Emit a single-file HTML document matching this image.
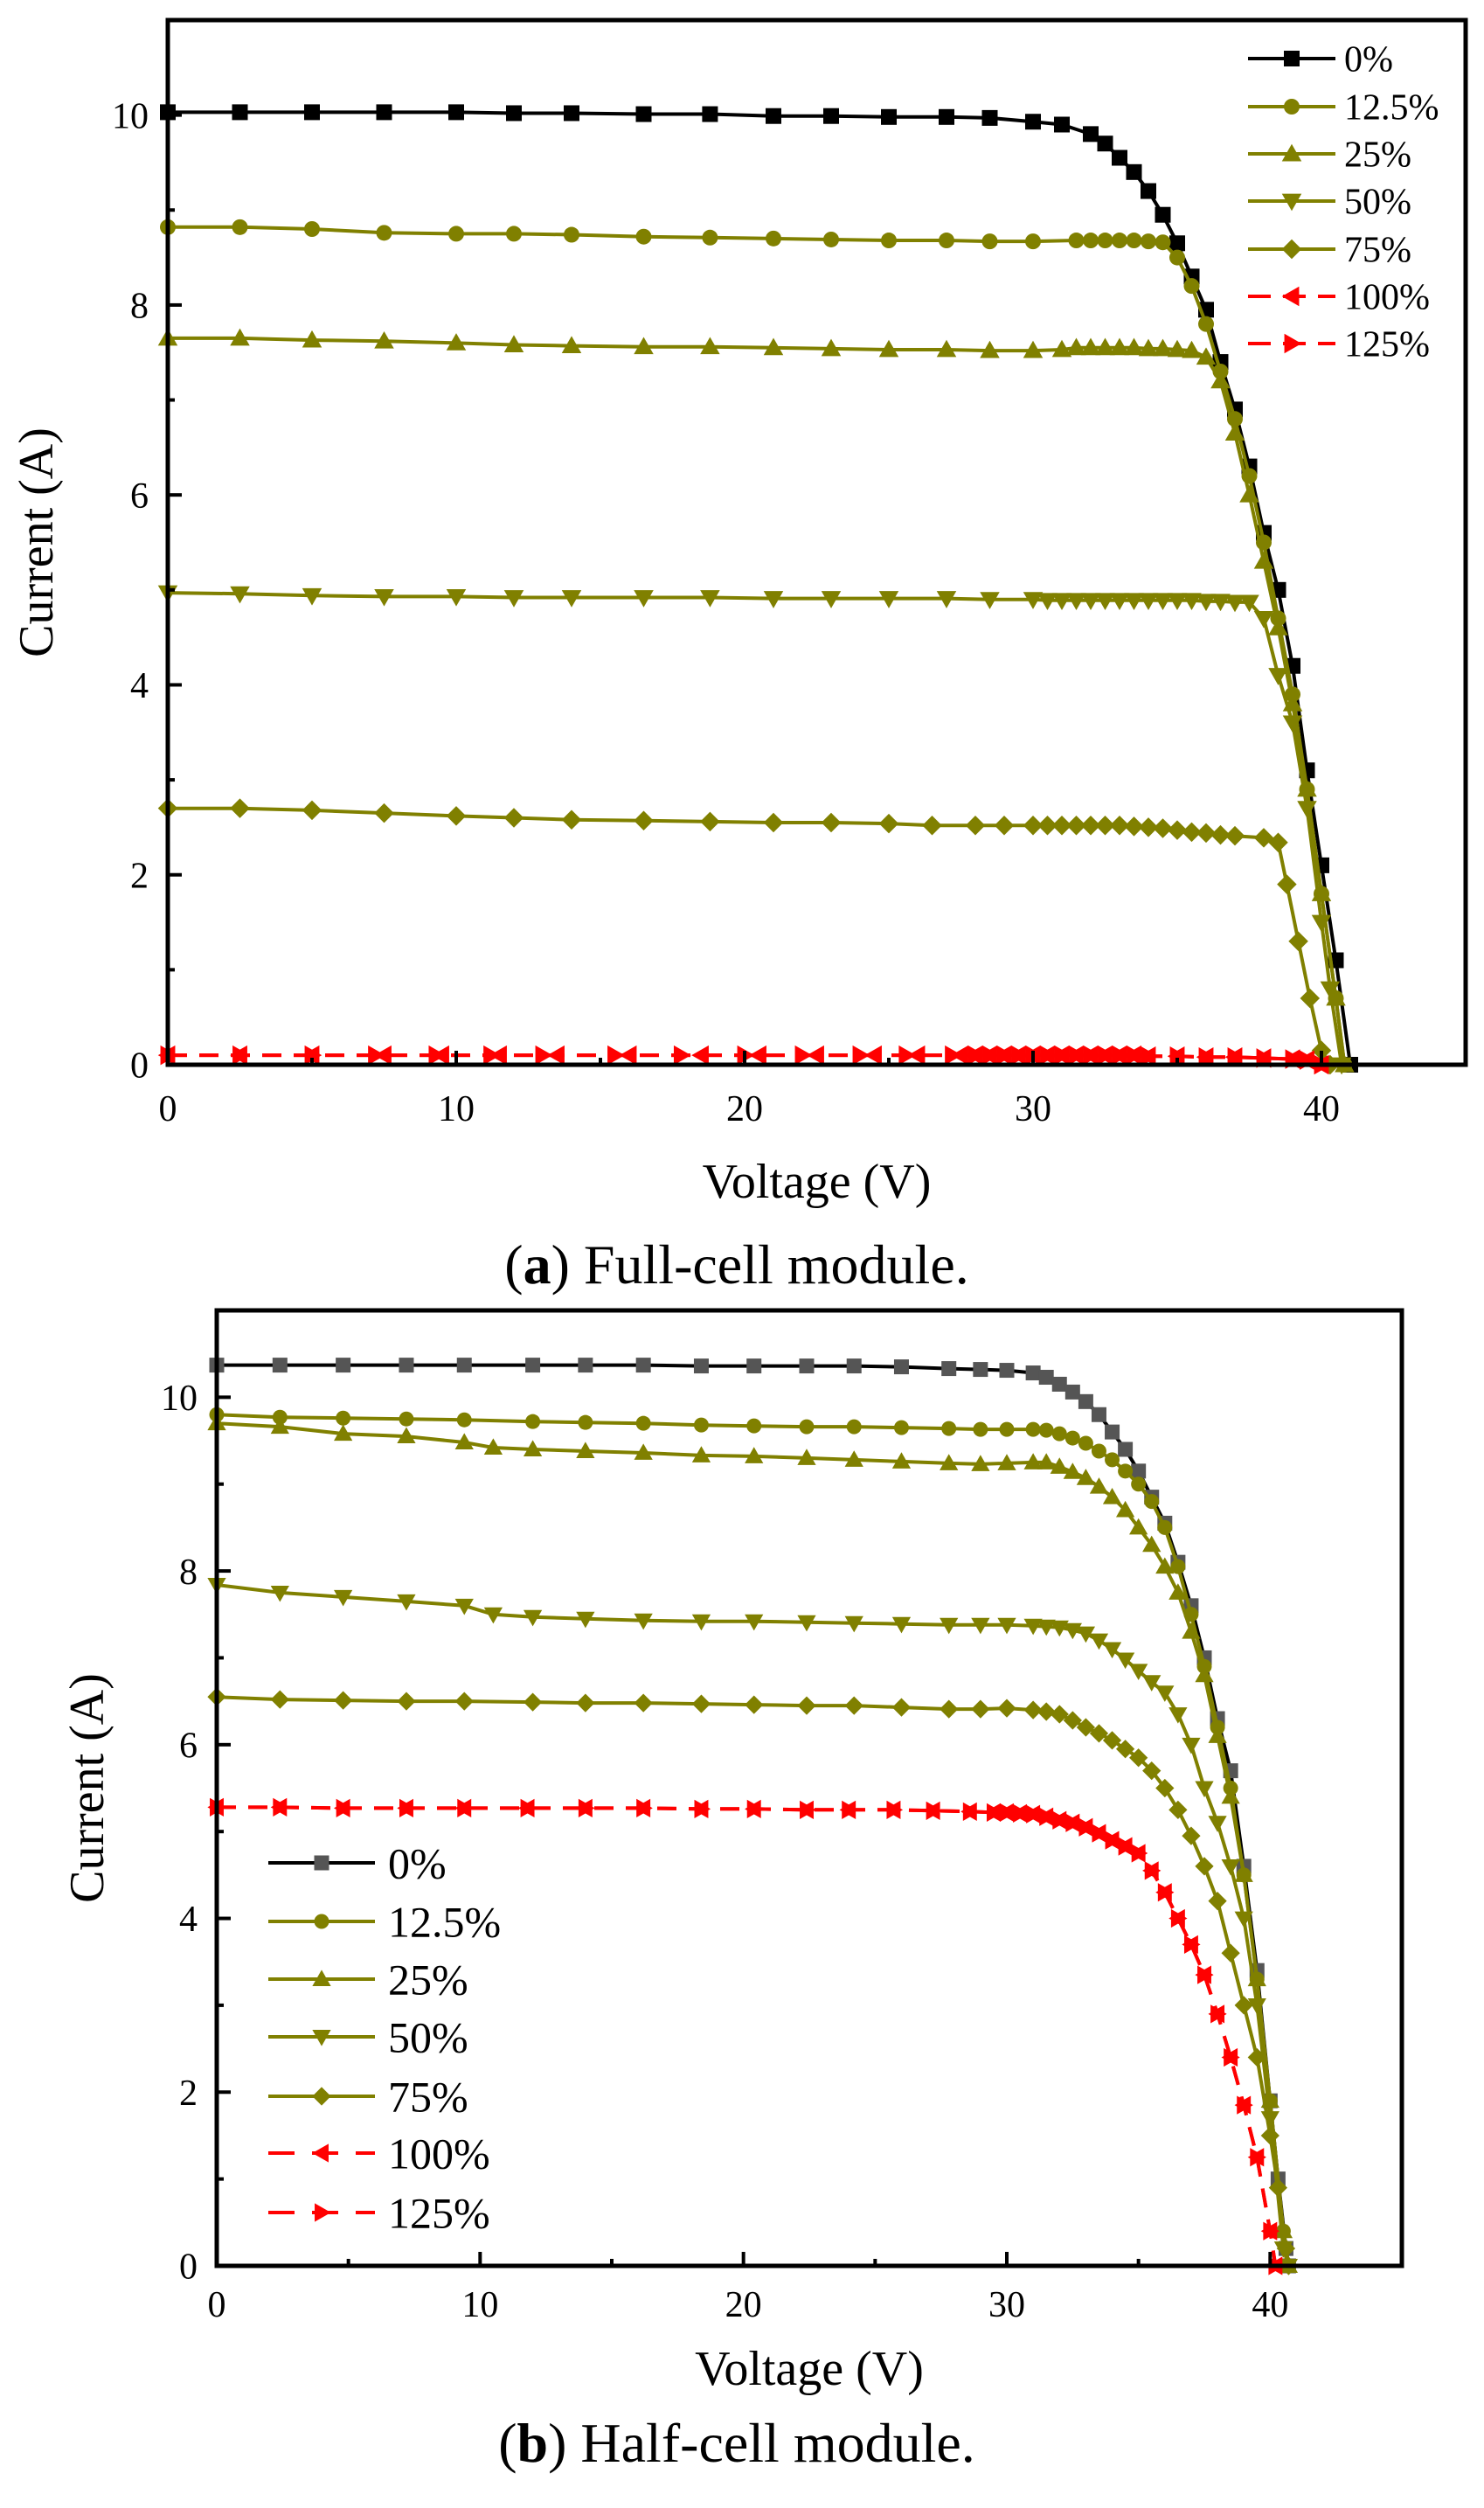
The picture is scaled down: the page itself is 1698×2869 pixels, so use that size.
<!DOCTYPE html>
<html><head><meta charset="utf-8"><style>
html,body{margin:0;padding:0;background:#fff;}
svg, svg text{font-family:"Liberation Serif","Times New Roman",serif;}
</style></head><body>
<svg id="fig" width="1698" height="2864" viewBox="0 0 1698 2864" xmlns="http://www.w3.org/2000/svg" font-family="Liberation Serif, serif">
<rect x="0" y="0" width="1698" height="2864" fill="#fff"/>
<g id="plotA"></g>
<g id="plotB"></g>
<text x="843" y="1468" font-size="64" font-family="Liberation Serif, serif" text-anchor="middle">(<tspan font-weight="bold">a</tspan>) Full-cell module.</text>
<text x="843" y="2816" font-size="64" font-family="Liberation Serif, serif" text-anchor="middle">(<tspan font-weight="bold">b</tspan>) Half-cell module.</text>
</svg>
<script>
// ---------- data: (a) full-cell module ----------
const labels = ["0%","12.5%","25%","50%","75%","100%","125%"];
const xTicks = [0,10,20,30,40];
const yTicks = [0,2,4,6,8,10];

const a0V = [0,2.5,5,7.5,10,12,14,16.5,18.8,21,23,25,27,28.5,30,31,32,32.5,33,33.5,34,34.5,35,35.5,36,36.5,37,37.5,38,38.5,39,39.5,40,40.5,41];
const a0I = [10.03,10.03,10.03,10.03,10.03,10.02,10.02,10.01,10.01,9.99,9.99,9.98,9.98,9.97,9.93,9.9,9.8,9.7,9.55,9.4,9.2,8.95,8.65,8.3,7.95,7.4,6.9,6.3,5.6,5.0,4.2,3.1,2.1,1.1,0];
const a1V = [0,2.5,5,7.5,10,12,14,16.5,18.8,21,23,25,27,28.5,30,31.5,32,32.5,33,33.5,34,34.5,35,35.5,36,36.5,37,37.5,38,38.5,39,39.5,40,40.5,40.8];
const a1I = [8.82,8.82,8.8,8.76,8.75,8.75,8.74,8.72,8.71,8.7,8.69,8.68,8.68,8.67,8.67,8.68,8.68,8.68,8.68,8.68,8.67,8.66,8.5,8.2,7.8,7.3,6.8,6.2,5.5,4.7,3.9,2.9,1.8,0.7,0];
const a2V = [0,2.5,5,7.5,10,12,14,16.5,18.8,21,23,25,27,28.5,30,31,31.5,32,32.5,33,33.5,34,34.5,35,35.5,36,36.5,37,37.5,38,38.5,39,39.5,40,40.5,40.8];
const a2I = [7.65,7.65,7.63,7.62,7.6,7.58,7.57,7.56,7.56,7.55,7.54,7.53,7.53,7.52,7.52,7.53,7.55,7.55,7.55,7.55,7.55,7.54,7.54,7.53,7.52,7.45,7.2,6.65,6.0,5.3,4.6,3.8,2.9,1.8,0.7,0];
const a3V = [0,2.5,5,7.5,10,12,14,16.5,18.8,21,23,25,27,28.5,30,30.5,31,31.5,32,32.5,33,33.5,34,34.5,35,35.5,36,36.5,37,37.5,38,38.5,39,39.5,40,40.3,40.7];
const a3I = [4.97,4.96,4.94,4.93,4.93,4.92,4.92,4.92,4.92,4.91,4.91,4.91,4.91,4.9,4.9,4.89,4.89,4.89,4.89,4.89,4.89,4.89,4.89,4.89,4.89,4.89,4.88,4.88,4.87,4.87,4.7,4.1,3.6,2.7,1.5,0.8,0];
const a4V = [0,2.5,5,7.5,10,12,14,16.5,18.8,21,23,25,26.5,28,29,30,30.5,31,31.5,32,32.5,33,33.5,34,34.5,35,35.5,36,36.5,37,38,38.5,38.8,39.2,39.6,40,40.3];
const a4I = [2.7,2.7,2.68,2.65,2.62,2.6,2.58,2.57,2.56,2.55,2.55,2.54,2.52,2.52,2.52,2.52,2.52,2.52,2.52,2.52,2.52,2.52,2.51,2.5,2.49,2.47,2.45,2.44,2.42,2.41,2.39,2.34,1.9,1.3,0.7,0.15,0];
const a5V = [0,2.5,5,7.5,9.5,11.5,13.5,16,18.5,20.5,22.5,24.5,26,27.5,28,28.5,29,29.5,30,30.5,31,31.5,32,32.5,33,33.5,34,35,36,37,38,39,39.5,40];
const a5I = [0.1,0.1,0.1,0.1,0.1,0.1,0.1,0.1,0.1,0.1,0.1,0.1,0.1,0.1,0.1,0.1,0.1,0.1,0.1,0.1,0.1,0.1,0.1,0.1,0.1,0.1,0.09,0.09,0.08,0.08,0.07,0.06,0.05,0];
const a6V = [0,2.5,5,7.2,9.3,11.2,13,15.5,17.8,20,22,24,25.6,27.2,28,28.5,29,29.5,30,30.5,31,31.5,32,32.5,33,33.5,34,35,36,37,38,39,39.5,40];
const a6I = [0.1,0.1,0.1,0.1,0.1,0.1,0.1,0.1,0.1,0.1,0.1,0.1,0.1,0.1,0.1,0.1,0.1,0.1,0.1,0.1,0.1,0.1,0.1,0.1,0.1,0.1,0.09,0.09,0.08,0.08,0.07,0.06,0.05,0];

// ---------- data: (b) half-cell module ----------
const b0V = [0,2.4,4.8,7.2,9.4,12,14,16.2,18.4,20.4,22.4,24.2,26,27.8,29,30,31,31.5,32,32.5,33,33.5,34,34.5,35,35.5,36,36.5,37,37.5,38,38.5,39,39.5,40,40.3,40.6,40.7];
const b0I = [10.37,10.37,10.37,10.37,10.37,10.37,10.37,10.37,10.36,10.36,10.36,10.36,10.35,10.33,10.32,10.31,10.28,10.23,10.15,10.06,9.95,9.8,9.6,9.4,9.15,8.85,8.55,8.1,7.6,7.0,6.3,5.7,4.6,3.4,1.9,1.0,0.2,0];
const b1V = [0,2.4,4.8,7.2,9.4,12,14,16.2,18.4,20.4,22.4,24.2,26,27.8,29,30,31,31.5,32,32.5,33,33.5,34,34.5,35,35.5,36,36.5,37,37.5,38,38.5,39,39.5,40,40.5,40.7];
const b1I = [9.8,9.77,9.76,9.75,9.74,9.72,9.71,9.7,9.68,9.67,9.66,9.66,9.65,9.64,9.63,9.63,9.63,9.62,9.58,9.53,9.47,9.38,9.28,9.15,9.0,8.8,8.5,8.05,7.5,6.9,6.2,5.5,4.5,3.3,1.9,0.4,0];
const b2V = [0,2.4,4.8,7.2,9.4,10.5,12,14,16.2,18.4,20.4,22.4,24.2,26,27.8,29,30,31,31.5,32,32.5,33,33.5,34,34.5,35,35.5,36,36.5,37,37.5,38,38.5,39,39.5,40,40.5,40.7];
const b2I = [9.7,9.66,9.58,9.55,9.48,9.42,9.4,9.38,9.36,9.33,9.32,9.3,9.28,9.26,9.24,9.23,9.24,9.25,9.25,9.2,9.14,9.07,8.97,8.85,8.7,8.5,8.3,8.05,7.75,7.3,6.8,6.1,5.4,4.5,3.3,1.9,0.4,0];
const b3V = [0,2.4,4.8,7.2,9.4,10.5,12,14,16.2,18.4,20.4,22.4,24.2,26,27.8,29,30,31,31.5,32,32.5,33,33.5,34,34.5,35,35.5,36,36.5,37,37.5,38,38.5,39,39.5,40,40.5,40.7];
const b3I = [7.84,7.75,7.7,7.65,7.6,7.5,7.47,7.45,7.43,7.42,7.42,7.41,7.4,7.39,7.38,7.38,7.38,7.37,7.36,7.35,7.32,7.28,7.2,7.1,6.98,6.85,6.72,6.6,6.35,6.0,5.5,5.1,4.6,4.0,3.0,1.7,0.2,0];
const b4V = [0,2.4,4.8,7.2,9.4,12,14,16.2,18.4,20.4,22.4,24.2,26,27.8,29,30,31,31.5,32,32.5,33,33.5,34,34.5,35,35.5,36,36.5,37,37.5,38,38.5,39,39.5,40,40.3,40.6,40.7];
const b4I = [6.55,6.52,6.51,6.5,6.5,6.49,6.48,6.48,6.47,6.46,6.45,6.45,6.43,6.41,6.41,6.42,6.4,6.38,6.35,6.28,6.2,6.13,6.05,5.95,5.85,5.7,5.5,5.25,4.95,4.6,4.2,3.6,3.0,2.4,1.5,0.9,0.2,0];
const b5V = [0,2.4,4.8,7.2,9.4,11.8,14,16.2,18.4,20.4,22.4,24,25.7,27.2,28.6,29.5,30,30.5,31,31.5,32,32.5,33,33.5,34,34.5,35,35.5,36,36.5,37,37.5,38,38.5,39,39.5,40,40.2];
const b5I = [5.28,5.28,5.27,5.27,5.27,5.27,5.27,5.27,5.26,5.26,5.25,5.25,5.25,5.24,5.23,5.22,5.22,5.21,5.2,5.17,5.13,5.1,5.05,4.98,4.9,4.83,4.75,4.55,4.3,4.0,3.7,3.35,2.9,2.4,1.85,1.25,0.4,0];
const b6V = b5V.slice();
const b6I = b5I.slice();

const NS = "http://www.w3.org/2000/svg";
const OLIVE = "#808000";
const FONT = "Liberation Serif, serif";
function mk(tag, attrs, parent){
  const e = document.createElementNS(NS, tag);
  for (const k in attrs) e.setAttribute(k, attrs[k]);
  parent.appendChild(e);
  return e;
}
function marker(g, shape, cx, cy, s, color){
  let e;
  const h = s/2;
  if (shape === "square") e = mk("rect", {x:cx-h, y:cy-h, width:s, height:s, fill:color}, g);
  else if (shape === "circle") e = mk("circle", {cx:cx, cy:cy, r:h, fill:color}, g);
  else {
    const k = h*1.25;
    let p;
    if (shape === "up") p = [[cx,cy-k],[cx+k,cy+k*0.75],[cx-k,cy+k*0.75]];
    else if (shape === "down") p = [[cx,cy+k],[cx+k,cy-k*0.75],[cx-k,cy-k*0.75]];
    else if (shape === "diamond") p = [[cx,cy-k],[cx+k,cy],[cx,cy+k],[cx-k,cy]];
    else if (shape === "left") p = [[cx-k,cy],[cx+k*0.75,cy-k],[cx+k*0.75,cy+k]];
    else p = [[cx+k,cy],[cx-k*0.75,cy-k],[cx-k*0.75,cy+k]];
    e = mk("polygon", {points:p.map(q=>q.join(",")).join(" "), fill:color}, g);
  }
  
  
  return e;
}

function drawPlot(root, cfg){
  const xs = v => cfg.x0 + (v / 45) * (cfg.x1 - cfg.x0);
  const ys = v => cfg.y0 - (v / 11) * (cfg.y0 - cfg.y1);
  mk("rect", {x:cfg.x0, y:cfg.y1, width:cfg.x1-cfg.x0, height:cfg.y0-cfg.y1, fill:"#fff"}, root);
  cfg.series.forEach((s, i) => {
    const g = mk("g", {}, root);
    
    
    const pts = s.V.map((v,j) => xs(v).toFixed(1) + "," + ys(s.I[j]).toFixed(1)).join(" ");
    const line = mk("polyline", {points:pts, fill:"none", stroke:s.line, "stroke-width":cfg.lw, "stroke-linejoin":"round"}, g);
    if (s.dash) line.setAttribute("stroke-dasharray", s.dash);
    
    
    s.V.forEach((v,j) => marker(g, s.shape, xs(v), ys(s.I[j]), cfg.ms, s.mcol));
  });
  const fr = mk("rect", {x:cfg.x0, y:cfg.y1, width:cfg.x1-cfg.x0, height:cfg.y0-cfg.y1, fill:"none", stroke:"#000", "stroke-width":5}, root);
  
  
  const xg = mk("g", {}, root);
  
  
  for (let v = 0; v <= 45; v += 5){
    const major = v % 10 === 0;
    mk("line", {x1:xs(v), x2:xs(v), y1:cfg.y0, y2:cfg.y0-(major?cfg.tick:cfg.tick/2), stroke:"#000", "stroke-width":4}, xg);
  }
  xTicks.forEach(v => {
    const t = mk("text", {x:xs(v), y:cfg.xlabY, "font-size":cfg.fs, "font-family":FONT, "text-anchor":"middle"}, xg);
    t.textContent = v;
    
    
  });
  const yg = mk("g", {}, root);
  
  
  for (let v = 0; v <= 11; v += 1){
    const major = v % 2 === 0;
    mk("line", {x1:cfg.x0, x2:cfg.x0+(major?cfg.tick:cfg.tick/2), y1:ys(v), y2:ys(v), stroke:"#000", "stroke-width":4}, yg);
  }
  yTicks.forEach(v => {
    const t = mk("text", {x:cfg.ylabX, y:ys(v)+cfg.fs*0.35, "font-size":cfg.fs, "font-family":FONT, "text-anchor":"end"}, yg);
    t.textContent = v;
    
    
  });
  const xt = mk("text", {x:(cfg.x0+cfg.x1)/2, y:cfg.xtitleY, "font-size":cfg.tfs, "font-family":FONT, "text-anchor":"middle"}, root);
  xt.textContent = "Voltage (V)";
  
  
  const cy = (cfg.y0+cfg.y1)/2;
  const yt = mk("text", {x:cfg.ytitleX, y:cy, "font-size":cfg.tfs, "font-family":FONT, "text-anchor":"middle", transform:"rotate(-90 "+cfg.ytitleX+" "+cy+")"}, root);
  yt.textContent = "Current (A)";
  
  
  const lg = mk("g", {}, root);
  
  
  cfg.series.forEach((s, i) => {
    const y = cfg.legY[i];
    const e = mk("g", {}, lg);
    
    
    const l = mk("line", {x1:cfg.legX0, x2:cfg.legX1, y1:y, y2:y, stroke:s.line, "stroke-width":cfg.lw}, e);
    if (s.dash) l.setAttribute("stroke-dasharray", cfg.legDash);
    marker(e, s.shape, (cfg.legX0+cfg.legX1)/2, y, cfg.ms, s.mcol);
    const t = mk("text", {x:cfg.legTX, y:y+cfg.lfs*0.35, "font-size":cfg.lfs, "font-family":FONT}, e);
    t.textContent = labels[i];
  });
}

const shapes = ["square","circle","up","down","diamond","left","right"];
drawPlot(document.getElementById("plotA"), {
  x0:192, x1:1677, y0:1218, y1:23, lw:4, ms:18, tick:16, fs:42, tfs:56,
  xlabY:1282, ylabX:170, xtitleY:1370, ytitleX:60,
  legX0:1428, legX1:1528, legTX:1538, lfs:42, legDash:"26 14",
  legY:[67,122,176,230,285,339,393],
  series:[
    {V:a0V, I:a0I, shape:shapes[0], line:"#000", mcol:"#000"},
    {V:a1V, I:a1I, shape:shapes[1], line:OLIVE, mcol:OLIVE},
    {V:a2V, I:a2I, shape:shapes[2], line:OLIVE, mcol:OLIVE},
    {V:a3V, I:a3I, shape:shapes[3], line:OLIVE, mcol:OLIVE},
    {V:a4V, I:a4I, shape:shapes[4], line:OLIVE, mcol:OLIVE},
    {V:a5V, I:a5I, shape:shapes[5], line:"#f00", mcol:"#f00", dash:"22 14"},
    {V:a6V, I:a6I, shape:shapes[6], line:"#f00", mcol:"#f00", dash:"22 14"}
  ]
});
drawPlot(document.getElementById("plotB"), {
  x0:248, x1:1604, y0:2592, y1:1499, lw:4, ms:17, tick:16, fs:42, tfs:56,
  xlabY:2650, ylabX:226, xtitleY:2728, ytitleX:118,
  legX0:307, legX1:429, legTX:444, lfs:50, legDash:"30 20",
  legY:[2131,2198,2264,2330,2398,2463,2531],
  series:[
    {V:b0V, I:b0I, shape:shapes[0], line:"#000", mcol:"#555"},
    {V:b1V, I:b1I, shape:shapes[1], line:OLIVE, mcol:OLIVE},
    {V:b2V, I:b2I, shape:shapes[2], line:OLIVE, mcol:OLIVE},
    {V:b3V, I:b3I, shape:shapes[3], line:OLIVE, mcol:OLIVE},
    {V:b4V, I:b4I, shape:shapes[4], line:OLIVE, mcol:OLIVE},
    {V:b5V, I:b5I, shape:shapes[5], line:"#f00", mcol:"#f00", dash:"22 14"},
    {V:b6V, I:b6I, shape:shapes[6], line:"#f00", mcol:"#f00", dash:"22 14"}
  ]
});
</script>
</body></html>
